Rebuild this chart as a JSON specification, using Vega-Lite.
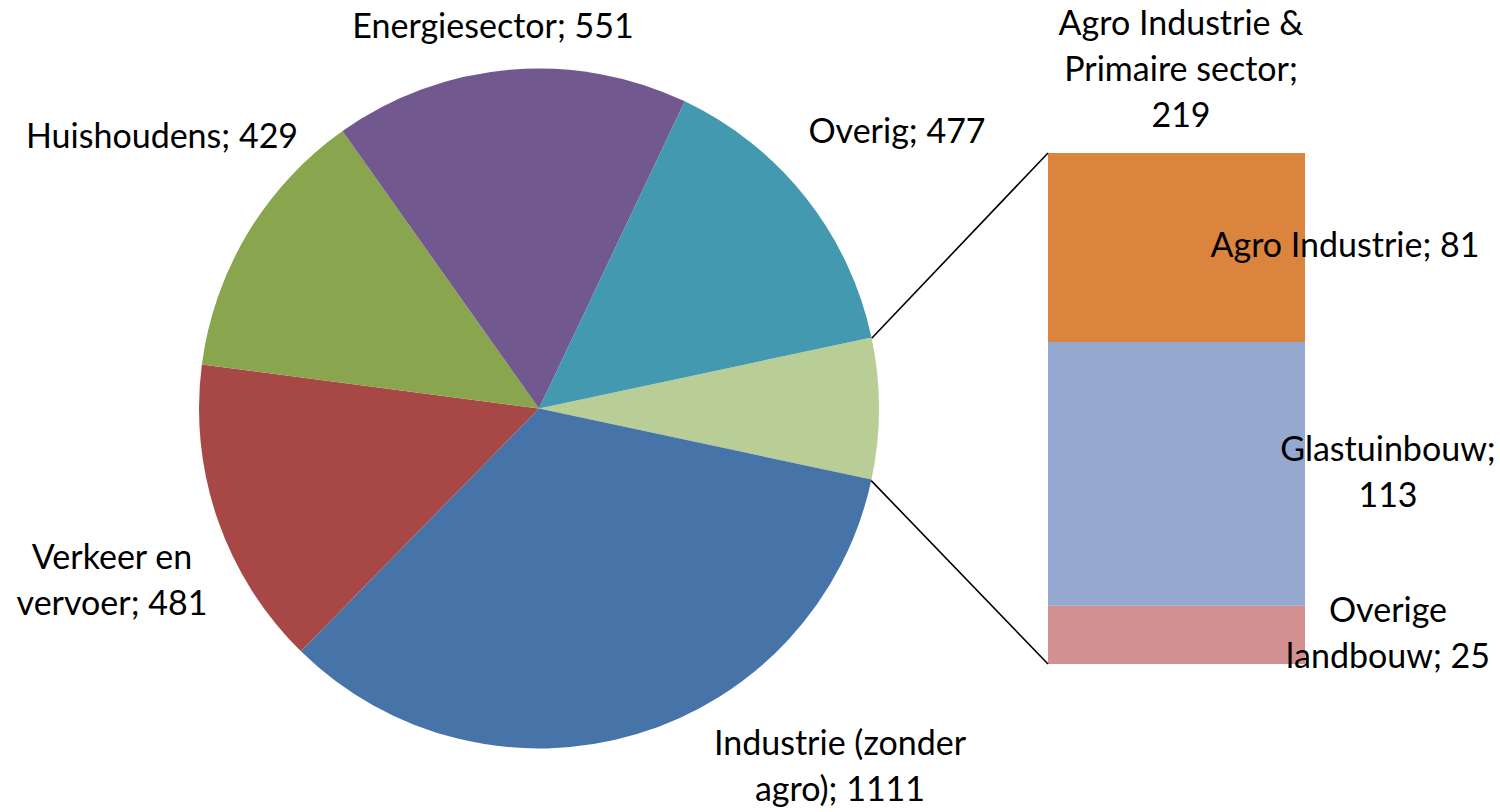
{
  "$schema": "https://vega.github.io/schema/vega-lite/v6.json",
  "width": 1500,
  "height": 812,
  "autosize": {"type": "none"},
  "padding": 0,
  "background": "white",
  "config": {"view": {"stroke": null}, "text": {"font": "Lato", "fontSize": 34, "color": "#000000", "lineBreak": "\n", "lineHeight": 46}},
  "datasets": {
    "pie": [
      {"category": "Agro Industrie & Primaire sector", "value": 219, "ord": 1, "label": "Agro Industrie &\nPrimaire sector;\n219"},
      {"category": "Industrie (zonder agro)", "value": 1111, "ord": 2, "label": "Industrie (zonder\nagro); 1111"},
      {"category": "Verkeer en vervoer", "value": 481, "ord": 3, "label": "Verkeer en\nvervoer; 481"},
      {"category": "Huishoudens", "value": 429, "ord": 4, "label": "Huishoudens; 429"},
      {"category": "Energiesector", "value": 551, "ord": 5, "label": "Energiesector; 551"},
      {"category": "Overig", "value": 477, "ord": 6, "label": "Overig; 477"}
    ],
    "bar": [
      {"category": "Overige landbouw", "value": 25, "ord": 1, "label": "Overige\nlandbouw; 25"},
      {"category": "Glastuinbouw", "value": 113, "ord": 2, "label": "Glastuinbouw;\n113"},
      {"category": "Agro Industrie", "value": 81, "ord": 3, "label": "Agro Industrie; 81"}
    ]
  },
  "layer": [
    {
      "data": {"name": "pie"},
      "mark": {"type": "arc", "outerRadius": 340},
      "encoding": {
        "x": {"datum": 539, "type": "quantitative", "scale": {"domain": [0, 1500], "nice": false, "zero": false}, "axis": null},
        "y": {"datum": 109.5, "type": "quantitative", "scale": {"domain": [-63.43, 284.57], "nice": false, "zero": false}, "axis": null},
        "theta": {"field": "value", "type": "quantitative", "stack": true, "scale": {"range": [1.36026, 7.64345]}},
        "order": {"field": "ord", "type": "quantitative"},
        "color": {
          "field": "category", "type": "nominal", "legend": null,
          "scale": {
            "domain": ["Agro Industrie & Primaire sector", "Industrie (zonder agro)", "Verkeer en vervoer", "Huishoudens", "Energiesector", "Overig", "Overige landbouw", "Glastuinbouw", "Agro Industrie"],
            "range": ["#B9CD96", "#4674A8", "#A84846", "#89A54E", "#71598F", "#4299B0", "#D29190", "#95A9D0", "#DB843D"]
          }
        }
      }
    },
    {
      "data": {"name": "bar"},
      "transform": [{"stack": "value", "groupby": [], "sort": [{"field": "ord", "order": "ascending"}], "as": ["y0", "y1"]}],
      "mark": {"type": "rect"},
      "encoding": {
        "x": {"datum": 1048, "type": "quantitative", "scale": {"domain": [0, 1500], "nice": false, "zero": false}, "axis": null},
        "x2": {"datum": 1305},
        "y": {"field": "y0", "type": "quantitative", "scale": {"domain": [-63.43, 284.57], "nice": false, "zero": false}, "axis": null},
        "y2": {"field": "y1"},
        "color": {"field": "category", "type": "nominal", "legend": null}
      }
    },
    {
      "data": {"values": [{}]},
      "mark": {"type": "rule", "color": "#000000", "strokeWidth": 1.6},
      "encoding": {
        "x": {"datum": 871.7, "type": "quantitative"},
        "y": {"datum": 139.6, "type": "quantitative"},
        "x2": {"datum": 1048},
        "y2": {"datum": 219}
      }
    },
    {
      "data": {"values": [{}]},
      "mark": {"type": "rule", "color": "#000000", "strokeWidth": 1.6},
      "encoding": {
        "x": {"datum": 871.2, "type": "quantitative"},
        "y": {"datum": 78.6, "type": "quantitative"},
        "x2": {"datum": 1048},
        "y2": {"datum": 0}
      }
    },
    {
      "data": {"name": "bar"},
      "transform": [
        {"stack": "value", "groupby": [], "sort": [{"field": "ord", "order": "ascending"}], "as": ["y0", "y1"]},
        {"calculate": "(datum.y0 + datum.y1) / 2", "as": "ymid"},
        {"filter": "datum.category == 'Agro Industrie'"}
      ],
      "mark": {"type": "text", "align": "center", "baseline": "middle"},
      "encoding": {
        "x": {"datum": 1345, "type": "quantitative"},
        "y": {"field": "ymid", "type": "quantitative"},
        "text": {"field": "label"}
      }
    },
    {
      "data": {"name": "bar"},
      "transform": [
        {"stack": "value", "groupby": [], "sort": [{"field": "ord", "order": "ascending"}], "as": ["y0", "y1"]},
        {"calculate": "(datum.y0 + datum.y1) / 2", "as": "ymid"},
        {"filter": "datum.category != 'Agro Industrie'"}
      ],
      "mark": {"type": "text", "align": "center", "baseline": "middle", "dy": -23},
      "encoding": {
        "x": {"datum": 1388, "type": "quantitative"},
        "y": {"field": "ymid", "type": "quantitative"},
        "text": {"field": "label"}
      }
    },
    {
      "data": {"name": "pie"},
      "transform": [{"filter": "datum.category == 'Energiesector'"}],
      "mark": {"type": "text", "align": "center", "baseline": "middle"},
      "encoding": {"x": {"datum": 493, "type": "quantitative"}, "y": {"datum": 272.6, "type": "quantitative"}, "text": {"field": "label"}}
    },
    {
      "data": {"name": "pie"},
      "transform": [{"filter": "datum.category == 'Overig'"}],
      "mark": {"type": "text", "align": "center", "baseline": "middle"},
      "encoding": {"x": {"datum": 897, "type": "quantitative"}, "y": {"datum": 227.6, "type": "quantitative"}, "text": {"field": "label"}}
    },
    {
      "data": {"name": "pie"},
      "transform": [{"filter": "datum.category == 'Huishoudens'"}],
      "mark": {"type": "text", "align": "center", "baseline": "middle"},
      "encoding": {"x": {"datum": 162, "type": "quantitative"}, "y": {"datum": 225.4, "type": "quantitative"}, "text": {"field": "label"}}
    },
    {
      "data": {"name": "pie"},
      "transform": [{"filter": "datum.category == 'Verkeer en vervoer'"}],
      "mark": {"type": "text", "align": "center", "baseline": "middle"},
      "encoding": {"x": {"datum": 112, "type": "quantitative"}, "y": {"datum": 45.0, "type": "quantitative"}, "text": {"field": "label"}}
    },
    {
      "data": {"name": "pie"},
      "transform": [{"filter": "datum.category == 'Industrie (zonder agro)'"}],
      "mark": {"type": "text", "align": "center", "baseline": "middle"},
      "encoding": {"x": {"datum": 840, "type": "quantitative"}, "y": {"datum": -34.7, "type": "quantitative"}, "text": {"field": "label"}}
    },
    {
      "data": {"name": "pie"},
      "transform": [{"filter": "datum.category == 'Agro Industrie & Primaire sector'"}],
      "mark": {"type": "text", "align": "center", "baseline": "middle"},
      "encoding": {"x": {"datum": 1181, "type": "quantitative"}, "y": {"datum": 273.8, "type": "quantitative"}, "text": {"field": "label"}}
    }
  ]
}
